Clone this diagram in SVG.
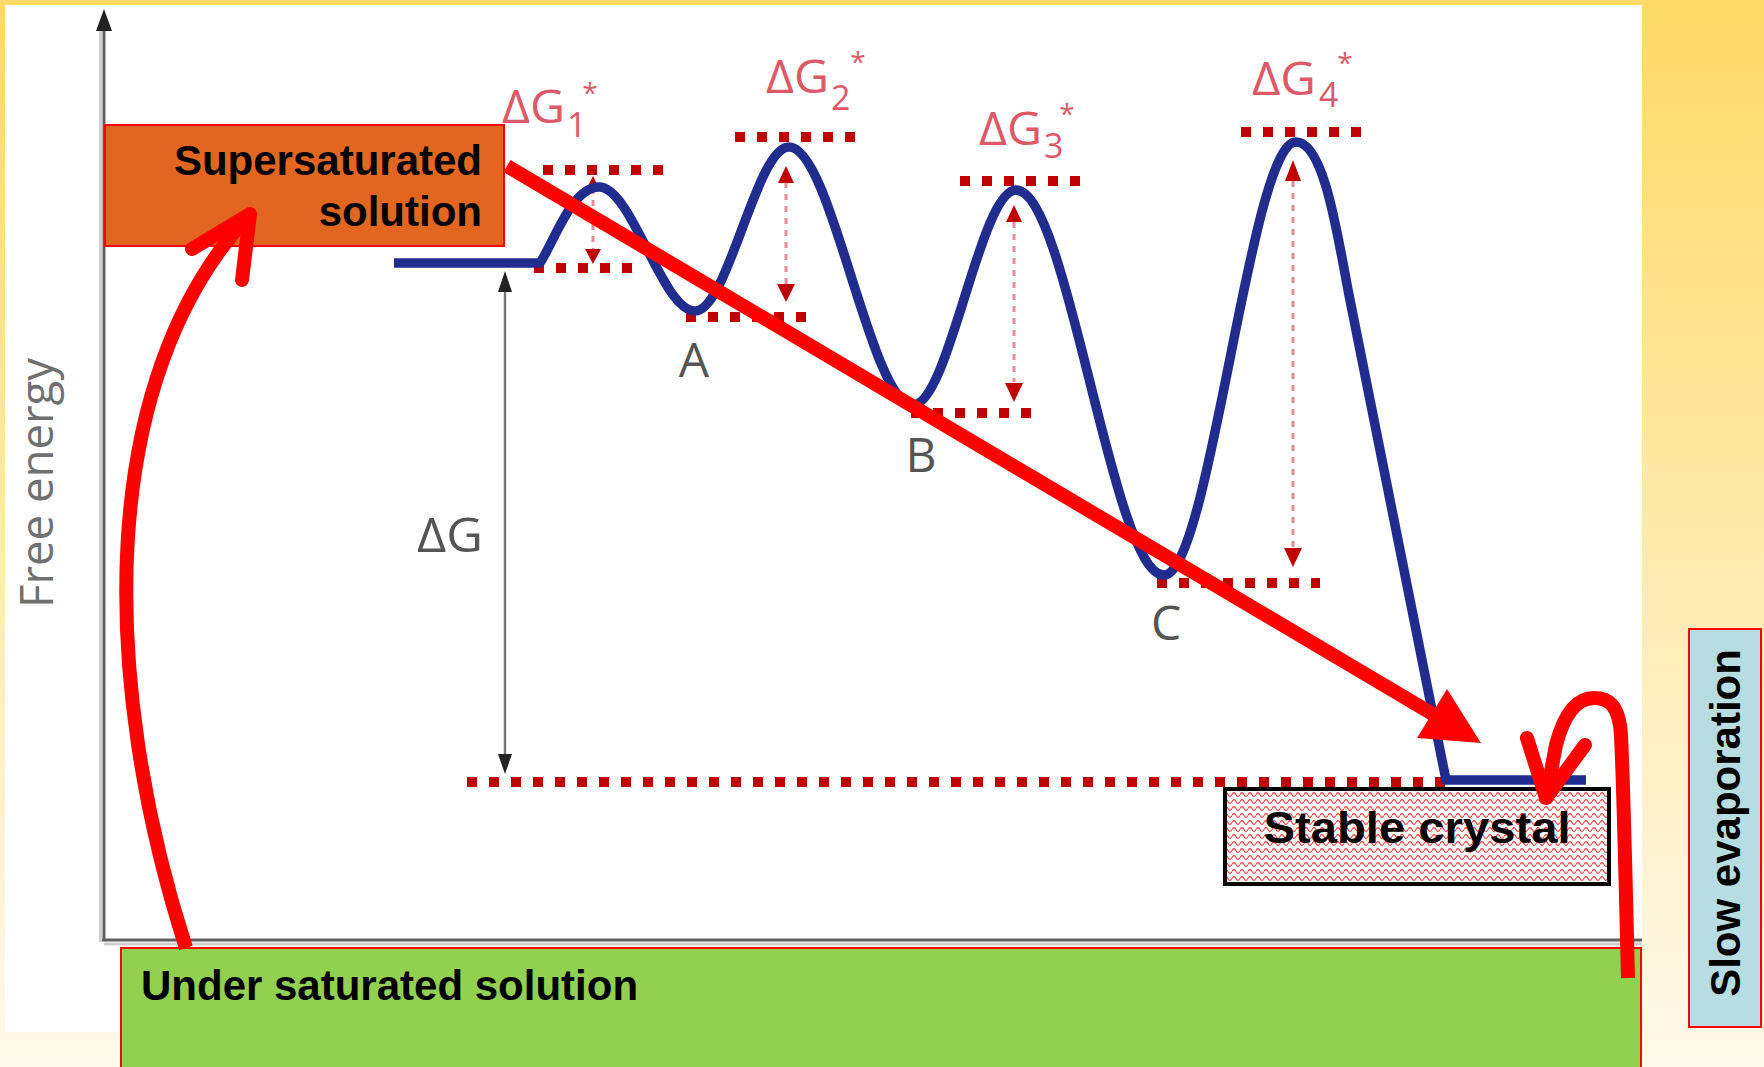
<svg xmlns="http://www.w3.org/2000/svg" width="1764" height="1067" viewBox="0 0 1764 1067">
  <defs>
    <linearGradient id="bg" x1="0" y1="0" x2="0" y2="1">
      <stop offset="0" stop-color="#FFD966"/>
      <stop offset="0.6" stop-color="#FFEDB8"/>
      <stop offset="1" stop-color="#FFF9EC"/>
    </linearGradient>
    <pattern id="wave" patternUnits="userSpaceOnUse" width="8" height="7">
      <rect width="8" height="7" fill="#FFFFFF"/>
      <path d="M0,3.5 C1.3,1 2.7,1 4,3.5 S6.7,6 8,3.5" fill="none" stroke="#F24040" stroke-width="1.1"/>
    </pattern>
    <style>
      .dots { stroke: #C00000; stroke-width: 10; stroke-dasharray: 10 12; fill: none; }
      .shaft { stroke: #E58C96; stroke-width: 3; stroke-dasharray: 6 6; fill: none; }
      .head { fill: #C00000; }
      .dg { font-family: "Open Sans", "DejaVu Sans", sans-serif; fill: #DC5A68; }
      .gray { font-family: "Open Sans", "DejaVu Sans", sans-serif; fill: #555555; font-size: 48px; }
      .bold { font-family: "Liberation Sans", Arial, sans-serif; font-weight: bold; fill: #000000; font-size: 42px; }
      .red { stroke: #FF0000; fill: none; stroke-width: 14; }
    </style>
  </defs>

  <!-- background and white panel -->
  <rect x="0" y="0" width="1764" height="1067" fill="url(#bg)"/>
  <rect x="5" y="5" width="1637" height="1027" fill="#FFFFFF"/>

  <!-- axes -->
  <g id="axes">
    <line x1="100.5" y1="30" x2="100.5" y2="942" stroke="#D0D0D0" stroke-width="3"/>
    <line x1="104" y1="28" x2="104" y2="940" stroke="#606060" stroke-width="3"/>
    <polygon points="104,9 96,31 112,31" fill="#222222"/>
    <line x1="104" y1="944" x2="1642" y2="944" stroke="#D0D0D0" stroke-width="3"/>
    <line x1="102" y1="940" x2="1642" y2="940" stroke="#606060" stroke-width="3"/>
    <text class="gray" text-anchor="middle" transform="translate(53,483) rotate(-90)" textLength="250" lengthAdjust="spacingAndGlyphs" style="font-size:45px;fill:#707070">Free energy</text>
  </g>

  <!-- dotted reference levels -->
  <g id="levels">
    <line class="dots" x1="543" y1="170" x2="666" y2="170"/>
    <line class="dots" x1="534" y1="268" x2="634" y2="268"/>
    <line class="dots" x1="686" y1="317" x2="808" y2="317"/>
    <line class="dots" x1="735" y1="137" x2="858" y2="137"/>
    <line class="dots" x1="960" y1="181" x2="1084" y2="181"/>
    <line class="dots" x1="911" y1="413" x2="1035" y2="413"/>
    <line class="dots" x1="1241" y1="132" x2="1364" y2="132"/>
    <line class="dots" x1="1157" y1="583" x2="1320" y2="583"/>
    <line class="dots" x1="467" y1="782" x2="1446" y2="782"/>
  </g>

  <!-- barrier arrows -->
  <g id="barrier-arrows">
    <line class="shaft" x1="593" y1="188" x2="593" y2="250"/>
    <polygon class="head" points="593,176 586,190 600,190"/>
    <polygon class="head" points="593,264 585,249 601,249"/>
    <line class="shaft" x1="786" y1="182" x2="786" y2="284"/>
    <polygon class="head" points="786,166 778,183 794,183"/>
    <polygon class="head" points="786,302 777,284 795,284"/>
    <line class="shaft" x1="1014" y1="222" x2="1014" y2="382"/>
    <polygon class="head" points="1014,205 1006,222 1022,222"/>
    <polygon class="head" points="1014,402 1005,383 1023,383"/>
    <line class="shaft" x1="1293" y1="181" x2="1293" y2="548"/>
    <polygon class="head" points="1293,160 1285,181 1301,181"/>
    <polygon class="head" points="1293,567 1284,548 1302,548"/>
  </g>

  <!-- energy curve -->
  <path id="energy-curve" d="M394,263 L540,263 C555,240 572,187 599,187 C632,187 662,311 695,311 C728,311 756,147 789,147 C832,147 870,405 913,405 C949,405 980,190 1016,190 C1068,190 1112,575 1164,575 C1210,575 1250,142 1296,142 C1325,142 1338,240 1350,300 L1446,780 L1586,780" fill="none" stroke="#202C8E" stroke-width="9.5" stroke-linejoin="round"/>

  <!-- labels -->
  <g id="labels">
    <text class="dg" x="502" y="123" font-size="46" textLength="63" lengthAdjust="spacingAndGlyphs">ΔG</text>
    <text class="dg" x="567" y="137" font-size="34">1</text>
    <text class="dg" x="590" y="103" font-size="28" text-anchor="middle">*</text>
    <text class="dg" x="766" y="93" font-size="46" textLength="63" lengthAdjust="spacingAndGlyphs">ΔG</text>
    <text class="dg" x="831" y="110" font-size="34">2</text>
    <text class="dg" x="858" y="72" font-size="28" text-anchor="middle">*</text>
    <text class="dg" x="979" y="145" font-size="46" textLength="63" lengthAdjust="spacingAndGlyphs">ΔG</text>
    <text class="dg" x="1044" y="158" font-size="34">3</text>
    <text class="dg" x="1067" y="124" font-size="28" text-anchor="middle">*</text>
    <text class="dg" x="1252" y="95" font-size="46" textLength="64" lengthAdjust="spacingAndGlyphs">ΔG</text>
    <text class="dg" x="1319" y="107" font-size="34">4</text>
    <text class="dg" x="1345" y="73" font-size="28" text-anchor="middle">*</text>
    <text class="gray" x="694" y="377" text-anchor="middle">A</text>
    <text class="gray" x="921" y="472" text-anchor="middle">B</text>
    <text class="gray" x="1166" y="640" text-anchor="middle">C</text>
    <text class="gray" x="417" y="552" textLength="66" lengthAdjust="spacingAndGlyphs">ΔG</text>
  </g>

  <!-- overall ΔG arrow -->
  <g id="delta-g-arrow">
    <line x1="505" y1="290" x2="505" y2="756" stroke="#777777" stroke-width="2.5"/>
    <polygon points="505,271 498,292 512,292" fill="#222222"/>
    <polygon points="505,774 498,754 512,754" fill="#222222"/>
  </g>

  <!-- nodes -->
  <g id="supersaturated">
    <rect x="105" y="125" width="399" height="121" fill="#E2661F" stroke="#FF0000" stroke-width="2"/>
    <text class="bold" x="482" y="175" text-anchor="end">Supersaturated</text>
    <text class="bold" x="482" y="226" text-anchor="end">solution</text>
  </g>

  <g id="undersaturated">
    <rect x="121" y="948" width="1520" height="125" fill="#92D050" stroke="#FF0000" stroke-width="2"/>
    <text class="bold" x="141" y="1000">Under saturated solution</text>
  </g>

  <g id="stable-crystal">
    <rect x="1225" y="789" width="384" height="95" fill="url(#wave)" stroke="#000000" stroke-width="4"/>
    <text class="bold" x="1417" y="843" text-anchor="middle" textLength="307" lengthAdjust="spacingAndGlyphs" style="font-size:45px">Stable crystal</text>
  </g>

  <g id="slow-evaporation">
    <rect x="1689" y="629" width="72" height="398" fill="#B7DDE2" stroke="#FF0000" stroke-width="2"/>
    <text class="bold" text-anchor="middle" transform="translate(1740,823) rotate(-90)">Slow evaporation</text>
  </g>

  <!-- connectors -->
  <g id="connectors">
    <line class="red" x1="507" y1="166" x2="1436" y2="716"/>
    <polygon points="1481,743 1417,738 1447,689" fill="#FF0000"/>
    <path class="red" d="M186,948 C100,680 95,380 250,214"/>
    <polyline class="red" points="192,249 250,214 242,280" stroke-linecap="round" stroke-linejoin="round"/>
    <path class="red" d="M1628,978 C1626,900 1624,800 1621,735 C1619,704 1608,698 1594,698 C1575,698 1563,718 1556,745 L1546,798"/>
    <polyline class="red" points="1527,738 1546,798 1585,745" stroke-linecap="round" stroke-linejoin="round"/>
  </g>
</svg>
